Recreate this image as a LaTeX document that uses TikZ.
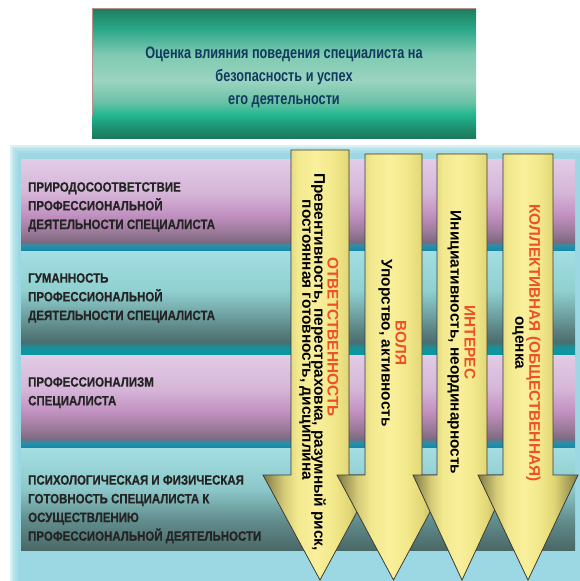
\documentclass[tikz,border=0pt]{standalone}
\usepackage{fontspec}
\setmainfont{Liberation Sans}
\newfontfamily\narrowsans[FakeStretch=0.77]{Liberation Sans}
\newfontfamily\bandsans[FakeStretch=0.85, BoldFeatures={FakeBold=0.6}]{Liberation Sans}

\definecolor{titleblue}{HTML}{103A5E}
\definecolor{bandink}{HTML}{242424}
\definecolor{accent}{HTML}{EE5028}
\definecolor{glowblue}{HTML}{9CD8E4}
\definecolor{arrowline}{HTML}{3C3C32}
\definecolor{boxedge}{HTML}{B89088}

% title box, dark green edges and a pale middle
\definecolor{tA}{HTML}{1C7A5C}
\definecolor{tB}{HTML}{1E9070}
\definecolor{tC}{HTML}{22B890}
\definecolor{tD}{HTML}{6CC2A6}
\definecolor{tE}{HTML}{9AD4C0}
\definecolor{tF}{HTML}{80CAB2}
\definecolor{tG}{HTML}{2AA888}
\definecolor{tH}{HTML}{1F7B5F}
\pgfdeclareverticalshading{titleshade}{100bp}{color(0bp)=(tA); color(25bp)=(tA);
  color(29bp)=(tB); color(34bp)=(tC); color(39bp)=(tD); color(47bp)=(tE);
  color(57bp)=(tF); color(67bp)=(tG); color(75bp)=(tH); color(100bp)=(tH)}

% lilac band with a teal rim at the bottom
\definecolor{pA}{HTML}{1488A8}
\definecolor{pB}{HTML}{2A90AA}
\definecolor{pC}{HTML}{7C6A80}
\definecolor{pD}{HTML}{9A7898}
\definecolor{pE}{HTML}{C292C2}
\definecolor{pF}{HTML}{D6B6D8}
\definecolor{pG}{HTML}{E2CCE6}
\pgfdeclareverticalshading{lilacband}{100bp}{color(0bp)=(pA); color(25bp)=(pA);
  color(28bp)=(pB); color(30bp)=(pC); color(35bp)=(pD); color(45bp)=(pE);
  color(57bp)=(pF); color(75bp)=(pG); color(100bp)=(pG)}

% cyan bands
\definecolor{cA}{HTML}{0898A0}
\definecolor{cB}{HTML}{1A9098}
\definecolor{cC}{HTML}{4A6E70}
\definecolor{cD}{HTML}{587E7E}
\definecolor{cE}{HTML}{6C9C9C}
\definecolor{cF}{HTML}{90D0D0}
\definecolor{cG}{HTML}{A4DEE2}
\definecolor{cH}{HTML}{4A6866}
\definecolor{cI}{HTML}{628E8E}
\definecolor{cJ}{HTML}{8CC8CA}
\pgfdeclareverticalshading{cyanband}{100bp}{color(0bp)=(cA); color(25bp)=(cA);
  color(29bp)=(cB); color(31bp)=(cC); color(36bp)=(cD); color(43bp)=(cE);
  color(56bp)=(cF); color(75bp)=(cG); color(100bp)=(cG)}
\pgfdeclareverticalshading{cyanlast}{100bp}{color(0bp)=(cH); color(25bp)=(cH);
  color(40bp)=(cI); color(55bp)=(cJ); color(75bp)=(cG); color(100bp)=(cG)}

% yellow arrows, olive at the corners of the head
\definecolor{yA}{HTML}{7E7844}
\definecolor{yB}{HTML}{D4CA78}
\definecolor{yC}{HTML}{F2E88E}
\definecolor{yD}{HTML}{FAF09C}
\definecolor{yE}{HTML}{F0E688}
\definecolor{yF}{HTML}{E0D676}
\definecolor{yG}{HTML}{827C46}
\pgfdeclarehorizontalshading{arrowshade}{100bp}{color(0bp)=(yA); color(25bp)=(yA);
  color(34bp)=(yB); color(40bp)=(yC); color(48bp)=(yD); color(57bp)=(yE);
  color(63bp)=(yF); color(75bp)=(yG); color(100bp)=(yG)}

\tikzset{
  titlebox/.style={shading=titleshade, minimum width=384pt, minimum height=130pt, inner sep=0pt},
  titletext/.style={inner sep=0pt, align=center, text=titleblue,
    font=\narrowsans\bfseries\fontsize{16.5}{23}\selectfont},
  bandtext/.style={anchor=north west, inner sep=0pt, align=left, text=bandink,
    font=\bandsans\bfseries\fontsize{13.5}{18.7}\selectfont},
  arrowbody/.style={shading=arrowshade, draw=arrowline, line width=0.8pt, line join=miter},
  arrowtext/.style={rotate=-90, inner sep=0pt, align=center, text=black,
    font=\bfseries\fontsize{15.4}{14}\selectfont},
  arrowhead/.style={arrowtext, text=accent}
}

\begin{document}
\begin{tikzpicture}[x=1pt, y=-1pt]
\useasboundingbox (0,0) rectangle (580,581);

\node[titlebox] (title) at (284,73) {};
\draw[boxedge, line width=0.6pt] (title.north west) -- (title.north east);
\draw[boxedge, line width=0.6pt] (title.north west) -- ++(0,107);
\node[titletext] (titletext) at ([yshift=-4pt]title.center) {Оценка влияния поведения специалиста на\\безопасность и успех\\его деятельности};

% soft blue panel behind the bands
\foreach \g in {0,...,4}
  \fill[glowblue, opacity=0.35] (10+1.6*\g, 145+1.6*\g) rectangle (590,590);
\fill[glowblue] (18,153) rectangle (590,590);

\shade[shading=lilacband] (21,159) rectangle (575,251);
\shade[shading=cyanband]  (21,251) rectangle (575,355);
\shade[shading=lilacband] (21,355) rectangle (575,448);
\shade[shading=cyanlast]  (21,448) rectangle (575,550);

\node[bandtext] (nature) at (28,182) {ПРИРОДОСООТВЕТСТВИЕ\\ПРОФЕССИОНАЛЬНОЙ\\ДЕЯТЕЛЬНОСТИ СПЕЦИАЛИСТА};
\node[bandtext] (humane) at (28,273) {ГУМАННОСТЬ\\ПРОФЕССИОНАЛЬНОЙ\\ДЕЯТЕЛЬНОСТИ СПЕЦИАЛИСТА};
\node[bandtext] (skill)  at (28,377) {ПРОФЕССИОНАЛИЗМ\\СПЕЦИАЛИСТА};
\node[bandtext] (ready)  at (28,475) {ПСИХОЛОГИЧЕСКАЯ И ФИЗИЧЕСКАЯ\\ГОТОВНОСТЬ СПЕЦИАЛИСТА К\\ОСУЩЕСТВЛЕНИЮ\\ПРОФЕССИОНАЛЬНОЙ ДЕЯТЕЛЬНОСТИ};

% four arrows, left to right
\draw[arrowbody] (291,150) -- ++(58,0) -- (349,475) -- (377,475) -- (320,580) -- (263,475) -- (291,475) -- cycle;
\draw[arrowbody] (365,154) -- ++(57,0) -- (422,475) -- (450,475) -- (393.5,580) -- (337,475) -- (365,475) -- cycle;
\draw[arrowbody] (437,154) -- ++(50,0) -- (487,475) -- (511,475) -- (462,580) -- (413,475) -- (437,475) -- cycle;
\draw[arrowbody] (503,154) -- ++(50,0) -- (553,475) -- (578,475) -- (528,580) -- (478,475) -- (503,475) -- cycle;

\node[arrowhead] (duty)  at (333,337) {ОТВЕТСТВЕННОСТЬ};
\node[arrowtext] (duty1) at (318.5,362) {Превентивность, перестраховка, разумный риск,};
\node[arrowtext] (duty2) at (305,340) {постоянная готовность, дисциплина};
\node[arrowtext] (will)  at (392.5,343) {\textcolor{accent}{ВОЛЯ}\\Упорство, активность};
\node[arrowtext] (drive) at (461.5,342.5) {\textcolor{accent}{ИНТЕРЕС}\\Инициативность, неординарность};
\node[arrowtext] (team)  at (526.5,343) {\textcolor{accent}{КОЛЛЕКТИВНАЯ (ОБЩЕСТВЕННАЯ)}\\оценка};
\end{tikzpicture}
\end{document}
